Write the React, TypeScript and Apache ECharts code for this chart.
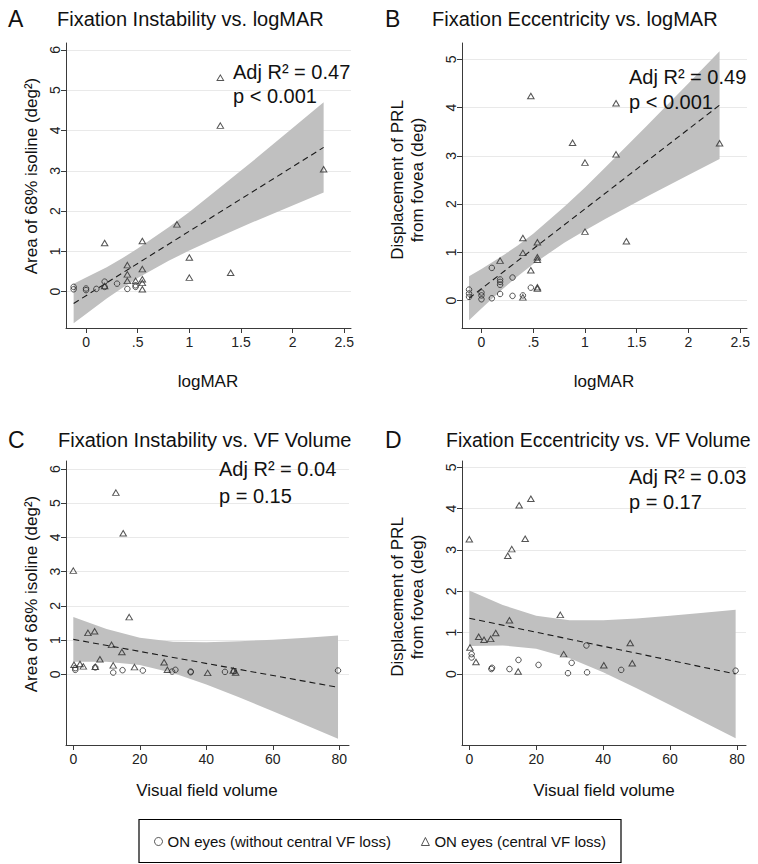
import React, { useEffect, useRef } from "react";
import * as echarts from "echarts";

const W = 758;
const H = 864;
const FONT = '"Liberation Sans", Arial, Helvetica, sans-serif';

// ---------- Panel A: Fixation instability vs logMAR ----------
const aCircX = [-0.12, -0.12, 0, 0, 0.1, 0.18, 0.18, 0.3, 0.4, 0.48, 0.48];
const aCircY = [0.12, 0.06, 0.08, 0.04, 0.07, 0.25, 0.12, 0.2, 0.07, 0.16, 0.12];
const aTriX = [1.3, 1.3, 2.3, 0.88, 0.18, 0.545, 1.0, 1.0, 1.4, 0.4, 0.4, 0.4, 0.545, 0.545, 0.545, 0.545, 0.48, 0.18];
const aTriY = [5.31, 4.12, 3.04, 1.67, 1.21, 1.26, 0.85, 0.35, 0.47, 0.66, 0.43, 0.27, 0.56, 0.31, 0.22, 0.06, 0.27, 0.14];
const aRegX = [-0.12, 2.3];
const aRegY = [-0.29, 3.58];
const aBandX = [-0.12, 0, 0.2, 0.35, 0.5, 0.8, 1.0, 1.2, 1.6, 2.0, 2.3];
const aBandUp = [0.2, 0.35, 0.61, 0.83, 1.07, 1.6, 1.98, 2.39, 3.21, 4.06, 4.7];
const aBandLo = [-0.78, -0.55, -0.17, 0.09, 0.34, 0.77, 1.02, 1.26, 1.71, 2.14, 2.46];

// ---------- Panel B: Fixation eccentricity vs logMAR ----------
const bCircX = [-0.12, -0.12, -0.12, 0, 0, 0, 0.1, 0.1, 0.18, 0.18, 0.18, 0.18, 0.3, 0.3, 0.4, 0.477];
const bCircY = [0.23, 0.15, 0.08, 0.17, 0.11, 0.03, 0.68, 0.05, 0.44, 0.39, 0.33, 0.14, 0.48, 0.1, 0.11, 0.27];
const bTriX = [0.477, 1.3, 0.88, 1.0, 1.3, 2.3, 1.0, 1.4, 0.4, 0.4, 0.54, 0.54, 0.54, 0.18, 0.477, 0.54, 0.54, 0.4];
const bTriY = [4.24, 4.09, 3.27, 2.86, 3.03, 3.26, 1.43, 1.23, 1.3, 0.99, 1.21, 0.9, 0.85, 0.83, 0.63, 0.28, 0.25, 0.07];
const bRegX = [-0.12, 2.3];
const bRegY = [0.05, 4.05];
const bBandX = [-0.12, 0, 0.2, 0.35, 0.5, 0.8, 1.0, 1.2, 1.6, 2.0, 2.3];
const bBandUp = [0.505, 0.655, 0.924, 1.145, 1.389, 1.944, 2.347, 2.767, 3.628, 4.504, 5.165];
const bBandLo = [-0.405, -0.159, 0.234, 0.509, 0.761, 1.198, 1.455, 1.697, 2.158, 2.604, 2.935];

// ---------- Panel C: Fixation instability vs VF volume ----------
const cCircX = [0.6, 0.6, 6.6, 12.0, 14.8, 20.9, 29.7, 30.7, 35.3, 35.3, 45.6, 48.3, 79.6];
const cCircY = [0.18, 0.13, 0.2, 0.05, 0.12, 0.11, 0.08, 0.13, 0.06, 0.08, 0.07, 0.09, 0.11];
const cTriX = [12.8, 15.0, 0, 16.8, 4.4, 6.4, 11.5, 14.6, 8.0, 0.2, 2.0, 3.0, 12.0, 18.4, 27.3, 28.3, 40.4, 48.1, 48.8, 6.6];
const cTriY = [5.31, 4.12, 3.03, 1.67, 1.21, 1.26, 0.86, 0.65, 0.44, 0.28, 0.3, 0.23, 0.26, 0.21, 0.35, 0.13, 0.04, 0.11, 0.05, 0.22];
const cRegX = [0, 79.6];
const cRegY = [1.02, -0.38];
const cBandX = [0, 10, 20, 30, 40, 50, 60, 70, 79.6];
const cBandUp = [1.675, 1.325, 1.066, 0.948, 0.933, 0.963, 1.012, 1.069, 1.13];
const cBandLo = [0.365, 0.363, 0.272, 0.038, -0.299, -0.681, -1.08, -1.489, -1.885];

// ---------- Panel D: Fixation eccentricity vs VF volume ----------
const dCircX = [0.7, 0.7, 6.6, 6.8, 12.0, 14.7, 20.7, 29.5, 30.6, 35.2, 35.0, 45.4, 79.6];
const dCircY = [0.48, 0.4, 0.12, 0.15, 0.12, 0.34, 0.22, 0.02, 0.27, 0.04, 0.69, 0.1, 0.08];
const dTriX = [18.4, 14.9, 0, 16.7, 12.7, 11.5, 27.2, 12.0, 7.9, 2.8, 4.4, 6.4, 0.2, 2.0, 28.2, 48.1, 48.7, 40.2, 14.6];
const dTriY = [4.24, 4.08, 3.26, 3.27, 3.02, 2.86, 1.43, 1.3, 0.99, 0.9, 0.83, 0.85, 0.64, 0.29, 0.48, 0.75, 0.26, 0.21, 0.06];
const dRegX = [0, 79.6];
const dRegY = [1.35, 0.0];
const dBandX = [0, 10, 20, 30, 40, 50, 60, 70, 79.6];
const dBandUp = [2.02, 1.668, 1.408, 1.301, 1.3, 1.345, 1.409, 1.481, 1.555];
const dBandLo = [0.68, 0.692, 0.612, 0.381, 0.042, -0.343, -0.747, -1.159, -1.555];

// ---------- Tick labels ----------
const logmarTicks = [0, 0.5, 1, 1.5, 2, 2.5];
const logmarLabels = ["0", ".5", "1", "1.5", "2", "2.5"];
const vfTicks = [0, 20, 40, 60, 80];
const vfLabels = ["0", "20", "40", "60", "80"];
const areaTicks = [0, 1, 2, 3, 4, 5, 6];
const displTicks = [0, 1, 2, 3, 4, 5];

// ---------- Texts ----------
const panelLetters = ["A", "B", "C", "D"];
const panelTitles = [
  "Fixation Instability vs. logMAR",
  "Fixation Eccentricity vs. logMAR",
  "Fixation Instability vs. VF Volume",
  "Fixation Eccentricity vs. VF Volume",
];
const statLine1 = ["Adj R\u00b2 = 0.47", "Adj R\u00b2 = 0.49", "Adj R\u00b2 = 0.04", "Adj R\u00b2 = 0.03"];
const statLine2 = ["p < 0.001", "p < 0.001", "p = 0.15", "p = 0.17"];
const yTitleArea = "Area of 68% isoline (deg\u00b2)";
const yTitleDispl = "Displacement of PRL\nfrom fovea (deg)";
const xTitleLog = "logMAR";
const xTitleVF = "Visual field volume";
const legendNames = ["ON eyes (without central VF loss)", "ON eyes (central VF loss)"];

const pts = (xs: number[], ys: number[]) => xs.map((x, i) => [x, ys[i]]);
const labelFor = (ticks: number[], labels: string[]) => (v: number) => {
  const i = ticks.findIndex((t) => Math.abs(t - v) < 1e-9);
  return i >= 0 ? labels[i] : "";
};

const panels = [
  {
    grid: { left: 66, top: 43, width: 285, height: 285 },
    xMin: -0.194, xMax: 2.565, yMin: -0.9, yMax: 6.17,
    xTicks: logmarTicks, xLabels: logmarLabels, yTicks: areaTicks,
    circX: aCircX, circY: aCircY, triX: aTriX, triY: aTriY,
    regX: aRegX, regY: aRegY, bandX: aBandX, bandUp: aBandUp, bandLo: aBandLo,
  },
  {
    grid: { left: 462, top: 43, width: 285, height: 285 },
    xMin: -0.188, xMax: 2.565, yMin: -0.565, yMax: 5.337,
    xTicks: logmarTicks, xLabels: logmarLabels, yTicks: displTicks,
    circX: bCircX, circY: bCircY, triX: bTriX, triY: bTriY,
    regX: bRegX, regY: bRegY, bandX: bBandX, bandUp: bBandUp, bandLo: bBandLo,
  },
  {
    grid: { left: 66, top: 461, width: 283, height: 284 },
    xMin: -2.2, xMax: 82.9, yMin: -2.067, yMax: 6.234,
    xTicks: vfTicks, xLabels: vfLabels, yTicks: areaTicks,
    circX: cCircX, circY: cCircY, triX: cTriX, triY: cTriY,
    regX: cRegX, regY: cRegY, bandX: cBandX, bandUp: cBandUp, bandLo: cBandLo,
  },
  {
    grid: { left: 462, top: 461, width: 284, height: 284 },
    xMin: -2.18, xMax: 82.7, yMin: -1.717, yMax: 5.152,
    xTicks: vfTicks, xLabels: vfLabels, yTicks: displTicks,
    circX: dCircX, circY: dCircY, triX: dTriX, triY: dTriY,
    regX: dRegX, regY: dRegY, bandX: dBandX, bandUp: dBandUp, bandLo: dBandLo,
  },
];

const AXIS_COLOR = "#3a3a3a";
const TEXT_COLOR = "#111111";

function buildOption() {
  const grid: any[] = [];
  const xAxis: any[] = [];
  const yAxis: any[] = [];
  const series: any[] = [];

  panels.forEach((p, i) => {
    grid.push({ ...p.grid, containLabel: false });
    xAxis.push({
      type: "value",
      gridIndex: i,
      min: p.xMin,
      max: p.xMax,
      axisLine: { show: true, onZero: false, lineStyle: { color: AXIS_COLOR, width: 1 } },
      axisTick: { show: true, inside: false, length: 5, customValues: p.xTicks, lineStyle: { color: AXIS_COLOR, width: 1 } },
      axisLabel: {
        customValues: p.xTicks,
        formatter: labelFor(p.xTicks, p.xLabels),
        fontSize: 14,
        fontFamily: FONT,
        color: "#222",
        margin: 7,
      },
      splitLine: { show: false },
    });
    yAxis.push({
      type: "value",
      gridIndex: i,
      min: p.yMin,
      max: p.yMax,
      axisLine: { show: true, onZero: false, lineStyle: { color: AXIS_COLOR, width: 1 } },
      axisTick: { show: true, inside: false, length: 5, customValues: p.yTicks, lineStyle: { color: AXIS_COLOR, width: 1 } },
      axisLabel: {
        customValues: p.yTicks,
        formatter: (v: number) => String(Math.round(v)),
        rotate: 90,
        fontSize: 14,
        fontFamily: FONT,
        color: "#222",
        margin: 4,
      },
      splitLine: { show: true, lineStyle: { color: "#e9e9e9", width: 1 } },
    });

    const bx = p.bandX, bu = p.bandUp, bl = p.bandLo;
    series.push({
      type: "custom",
      xAxisIndex: i,
      yAxisIndex: i,
      silent: true,
      z: 1,
      data: [[bx[0], bu[0]]],
      renderItem: (_params: any, api: any) => {
        const poly: number[][] = [];
        for (let j = 0; j < bx.length; j++) poly.push(api.coord([bx[j], bu[j]]));
        for (let j = bx.length - 1; j >= 0; j--) poly.push(api.coord([bx[j], bl[j]]));
        return { type: "polygon", shape: { points: poly }, style: { fill: "#c0c0c0", lineWidth: 0 } };
      },
    });
    series.push({
      type: "line",
      xAxisIndex: i,
      yAxisIndex: i,
      silent: true,
      z: 3,
      symbol: "none",
      data: pts(p.regX, p.regY),
      lineStyle: { color: "#1a1a1a", width: 1.1, type: [6, 4] },
    });
    series.push({
      type: "scatter",
      name: legendNames[0],
      xAxisIndex: i,
      yAxisIndex: i,
      z: 4,
      symbol: "circle",
      symbolSize: 5.5,
      data: pts(p.circX, p.circY),
      itemStyle: { color: "rgba(255,255,255,0)", borderColor: "#2a2a2a", borderWidth: 1 },
    });
    series.push({
      type: "scatter",
      name: legendNames[1],
      xAxisIndex: i,
      yAxisIndex: i,
      z: 4,
      symbol: "triangle",
      symbolSize: [6.5, 5.5],
      data: pts(p.triX, p.triY),
      itemStyle: { color: "rgba(255,255,255,0)", borderColor: "#2a2a2a", borderWidth: 1 },
    });
  });

  const txt = (x: number, y: number, text: string, size: number, align = "left", rotation = 0, lineHeight?: number) => ({
    type: "text",
    x,
    y,
    z: 100,
    rotation,
    silent: true,
    style: {
      text,
      fontSize: size,
      fontFamily: FONT,
      fill: TEXT_COLOR,
      align,
      verticalAlign: "middle",
      lineHeight: lineHeight || Math.round(size * 1.2),
    },
  });

  const letterPos = [[8, 19], [385, 19], [8, 440], [385, 440]];
  const titlePos = [[57, 19], [432, 19], [58, 440], [446, 440]];
  const titleSize = [20, 20, 20, 19.5];
  const stat1Pos = [[233, 72], [629, 77], [219, 469], [629, 477]];
  const stat2Pos = [[233, 96], [629, 102], [219, 496], [629, 502]];

  const graphic: any[] = [];
  for (let i = 0; i < 4; i++) {
    graphic.push(txt(letterPos[i][0], letterPos[i][1], panelLetters[i], 23));
    graphic.push(txt(titlePos[i][0], titlePos[i][1], panelTitles[i], titleSize[i]));
    graphic.push(txt(stat1Pos[i][0], stat1Pos[i][1], statLine1[i], 20));
    graphic.push(txt(stat2Pos[i][0], stat2Pos[i][1], statLine2[i], 20));
  }
  // y axis titles (rotated)
  graphic.push(txt(31, 176, yTitleArea, 17, "center", Math.PI / 2));
  graphic.push(txt(31, 594, yTitleArea, 17, "center", Math.PI / 2));
  graphic.push(txt(407, 180, yTitleDispl, 17, "center", Math.PI / 2, 20));
  graphic.push(txt(407, 597, yTitleDispl, 17, "center", Math.PI / 2, 20));
  // x axis titles
  graphic.push(txt(208, 381, xTitleLog, 17, "center"));
  graphic.push(txt(604, 381, xTitleLog, 17, "center"));
  graphic.push(txt(207, 790, xTitleVF, 17, "center"));
  graphic.push(txt(604, 790, xTitleVF, 17, "center"));
  // legend frame
  graphic.push({
    type: "rect",
    silent: true,
    z: 100,
    shape: { x: 139, y: 819.5, width: 482, height: 43 },
    style: { fill: "none", stroke: "#000", lineWidth: 1.2 },
  });

  return {
    animation: false,
    backgroundColor: "#ffffff",
    grid,
    xAxis,
    yAxis,
    series,
    graphic,
    legend: {
      left: 154,
      top: 834,
      padding: 0,
      itemWidth: 8,
      itemHeight: 8,
      itemGap: 30,
      selectedMode: false,
      data: [
        { name: legendNames[0], icon: "circle" },
        { name: legendNames[1], icon: "triangle" },
      ],
      itemStyle: { color: "rgba(255,255,255,0)", borderColor: "#2a2a2a", borderWidth: 1 },
      textStyle: { fontSize: 15, fontFamily: FONT, color: TEXT_COLOR },
    },
  };
}

export default function App() {
  const ref = useRef<HTMLDivElement>(null);
  useEffect(() => {
    document.body.style.margin = "0";
    const chart = echarts.init(ref.current!, null, { renderer: "svg", width: W, height: H });
    chart.setOption(buildOption() as any);
    return () => chart.dispose();
  }, []);
  return <div ref={ref} style={{ width: W, height: H }} />;
}
